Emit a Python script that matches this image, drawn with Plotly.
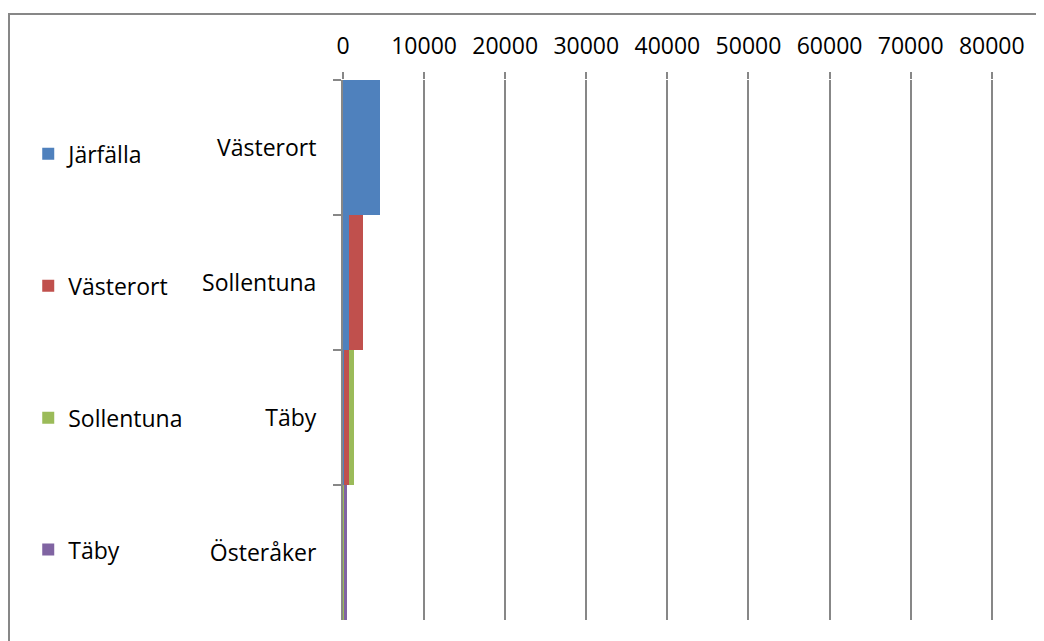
import plotly.graph_objects as go

categories = ["Västerort", "Sollentuna", "Täby", "Österåker"]
series_names = ["Järfälla", "Västerort", "Sollentuna", "Täby"]
jarfalla = [4550, 780, 150, 40]
vasterort = [0, 1640, 550, 40]
sollentuna = [0, 0, 650, 30]
taby = [0, 0, 0, 380]
series_values = [jarfalla, vasterort, sollentuna, taby]
colors = ["#4F81BD", "#C0504D", "#9BBB59", "#8064A2"]
x_ticks = [0, 10000, 20000, 30000, 40000, 50000, 60000, 70000, 80000]

FONT = "'Open Sans', Calibri, sans-serif"
GRAY = "#878787"

# page has an 8px body margin; plot area in screen px: x 343..992(+), y 80..620
L, T = 335, 72
X_MAX = 80400
W_PLOT = round(649 * X_MAX / 80000)
H_PLOT = 540

fig = go.Figure()
for name, vals, col in zip(series_names, series_values, colors):
    fig.add_trace(go.Bar(
        y=categories, x=vals, name=name, orientation="h",
        marker=dict(color=col, line=dict(width=0)),
        legendgroup=name,
    ))

fig.update_layout(
    width=1044, height=641,
    barmode="stack", bargap=0,
    paper_bgcolor="white", plot_bgcolor="white",
    margin=dict(l=L, r=1044 - L - W_PLOT, t=T, b=641 - T - H_PLOT, autoexpand=False),
    font=dict(family=FONT, size=23, color="#000000"),
    legend=dict(
        x=-0.485 * 649 / W_PLOT, xanchor="left", y=0.903, yanchor="top",
        traceorder="grouped", tracegroupgap=99,
        font=dict(size=23), bgcolor="rgba(0,0,0,0)",
        itemwidth=30,
    ),
    xaxis=dict(
        side="top", range=[0, X_MAX], tickvals=x_ticks,
        ticktext=[str(v) for v in x_ticks],
        showgrid=True, gridcolor=GRAY, gridwidth=2,
        ticks="outside", ticklen=7, tickcolor=GRAY, tickwidth=2,
        showline=False, zeroline=False, ticklabelstandoff=9,
        fixedrange=True,
    ),
    yaxis=dict(
        autorange="reversed", type="category",
        showline=True, linecolor=GRAY, linewidth=2,
        ticks="outside", tickson="boundaries", ticklen=8,
        tickcolor=GRAY, tickwidth=2, ticklabelstandoff=20,
        showgrid=False, zeroline=False,
    ),
    shapes=[
        dict(type="line", xref="paper", yref="paper",
             x0=(0 - L) / W_PLOT, x1=(1044 - L) / W_PLOT + 0.1,
             y0=1 + (T - 6) / H_PLOT, y1=1 + (T - 6) / H_PLOT,
             line=dict(color=GRAY, width=2)),
        dict(type="line", xref="paper", yref="paper",
             x0=(1 - L) / W_PLOT, x1=(1 - L) / W_PLOT,
             y0=1 + (T - 5) / H_PLOT, y1=-0.2,
             line=dict(color=GRAY, width=2)),
    ],
)

fig.write_html("out.html")
